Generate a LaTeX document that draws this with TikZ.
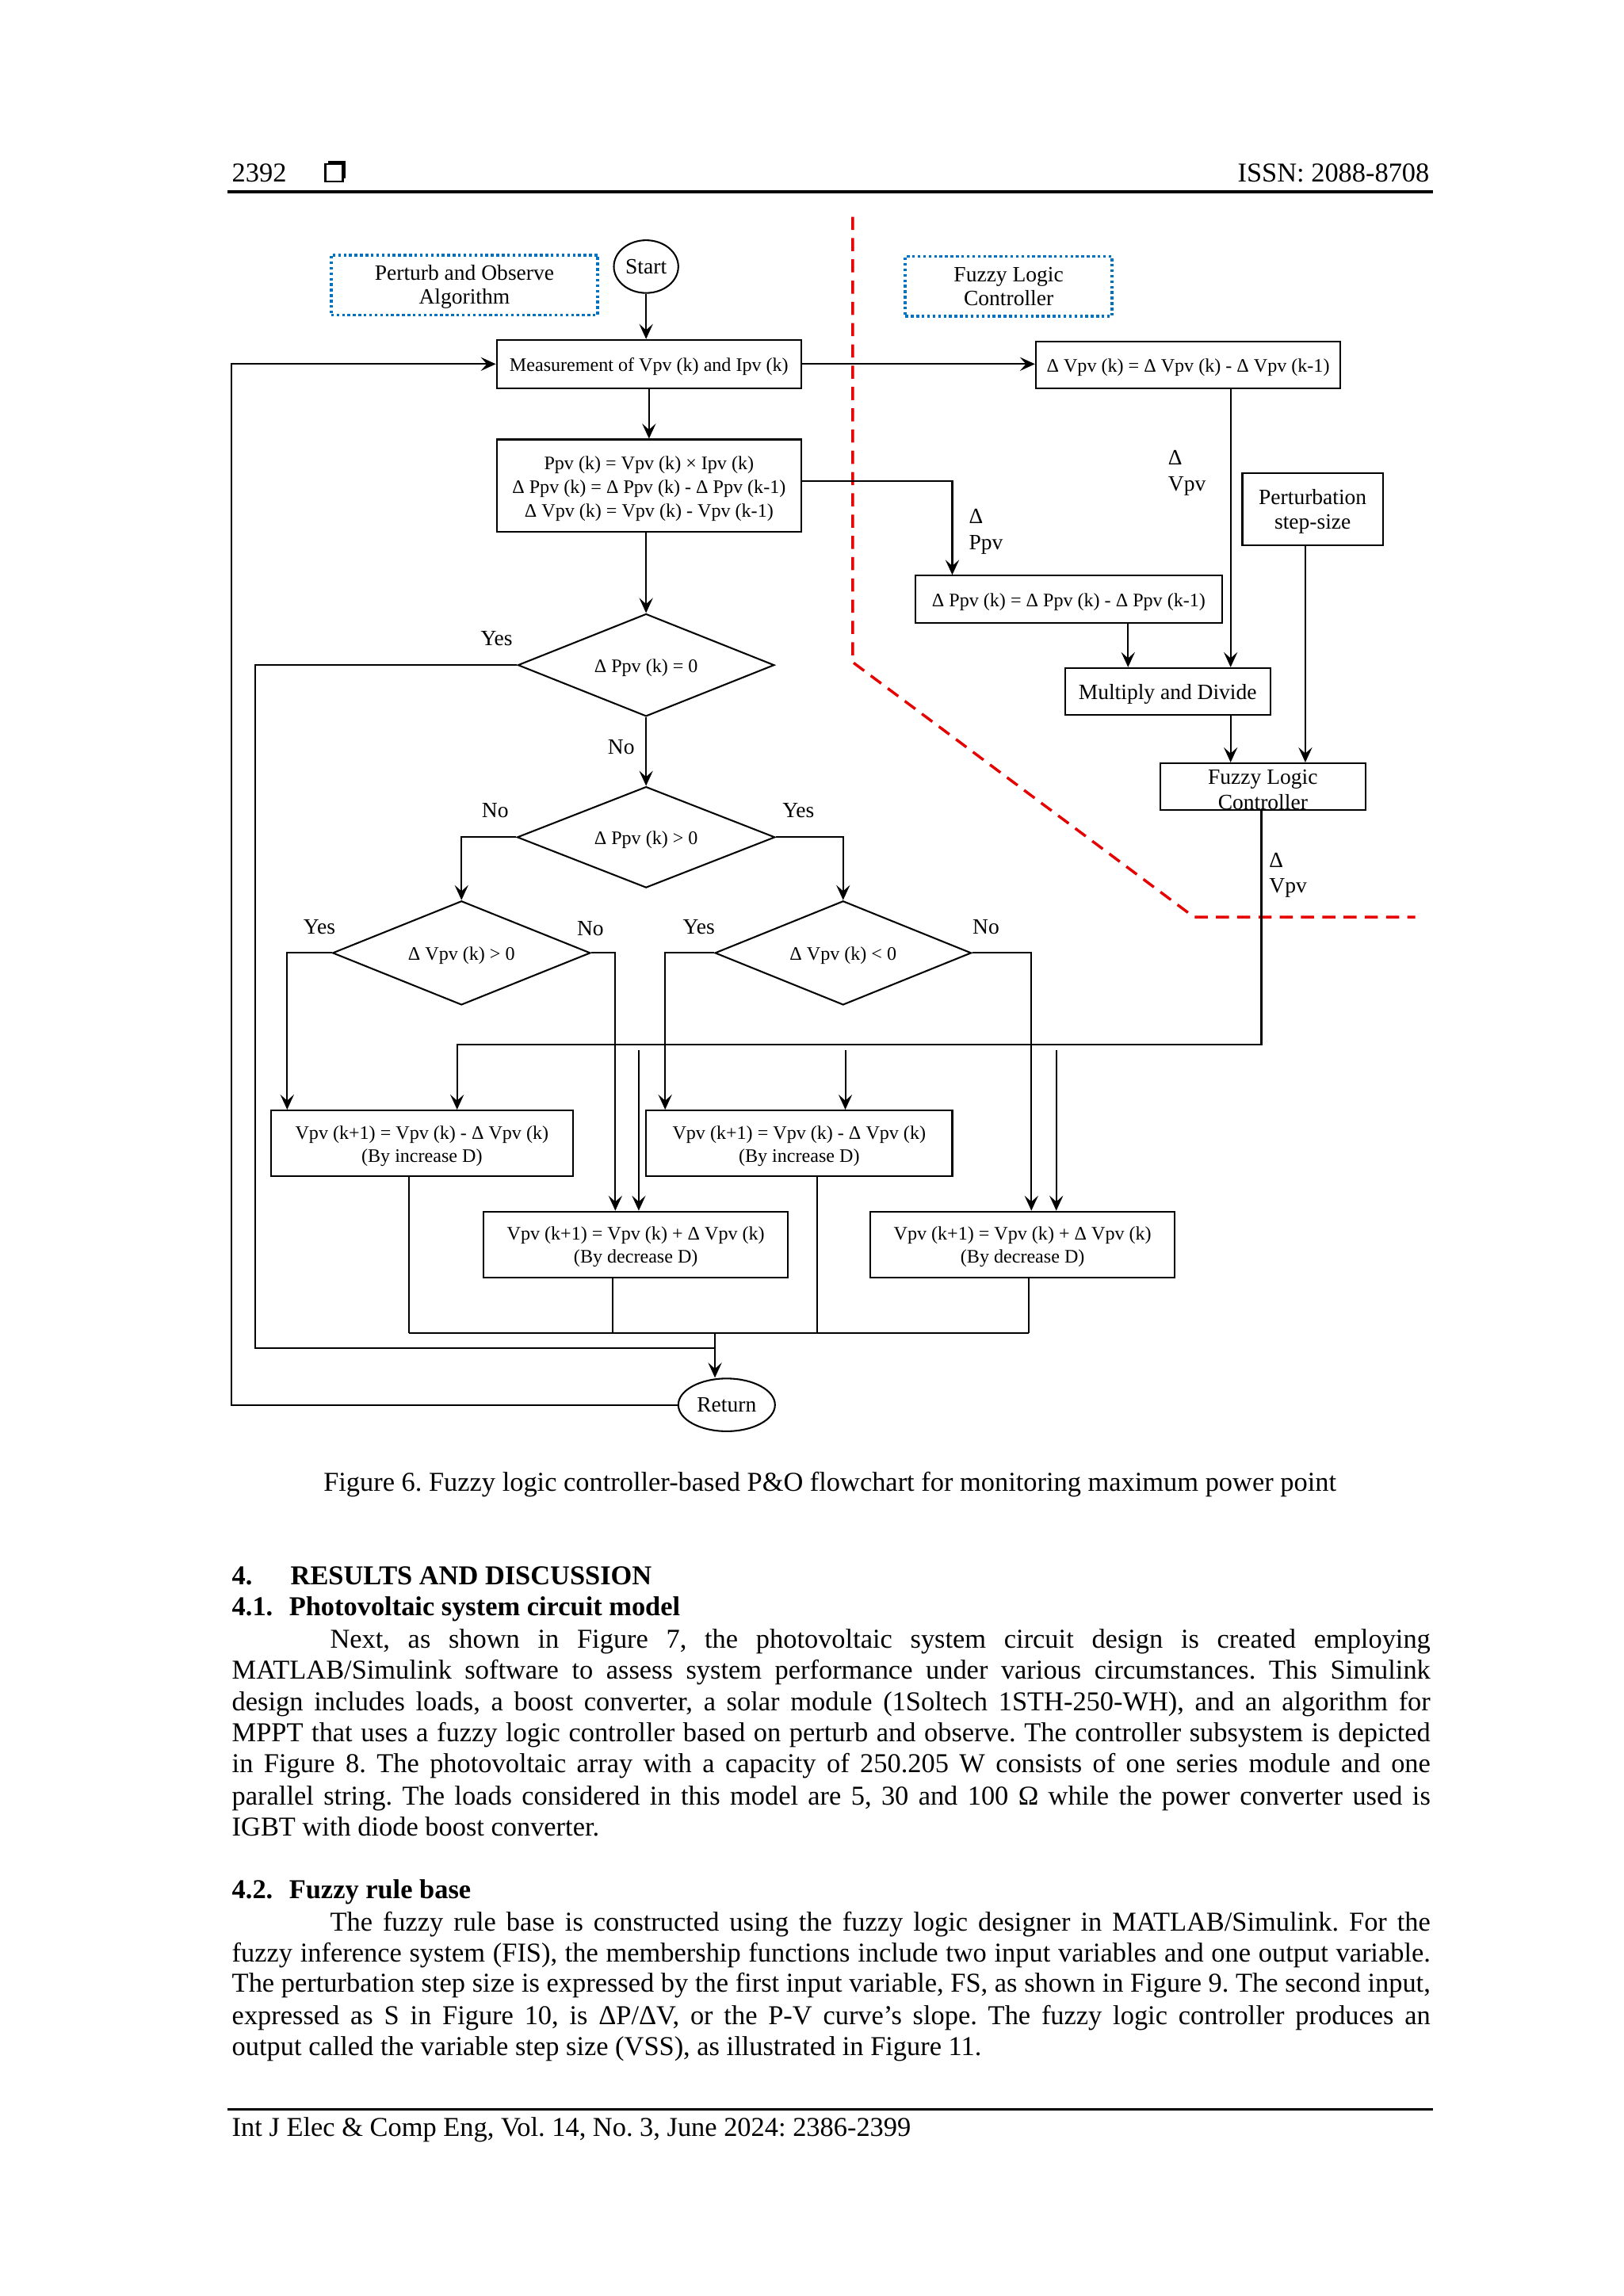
\documentclass[tikz,border=0pt]{standalone}
\usepackage{fontspec}
\setmainfont{Liberation Serif}
\usetikzlibrary{shapes.geometric,arrows.meta}
\frenchspacing
\newcommand*\dunit{0.53726pt}
\definecolor{dotblue}{RGB}{0,112,192}
\definecolor{redline}{RGB}{230,0,0}
\newcommand\bodyline[4]{\node[anchor=base west, inner sep=0pt, font=\fontsize{10}{11.5}\selectfont] (#1) at (#2) {\makebox[#3][s]{#4}};}
\newcommand\dn[1]{\raisebox{-1pt}[\height][\depth]{\begin{tabular}{@{}c@{}}#1\end{tabular}}}
\begin{document}
\begin{tikzpicture}[x=0.53726pt,y=-0.53726pt,
  box/.style={draw, line width=0.6pt, inner sep=0pt, align=center, font=\fontsize{7}{8.4}\selectfont},
  bigbox/.style={box, font=\fontsize{8}{9.2}\selectfont},
  lab/.style={inner sep=0pt, font=\fontsize{8}{9.4}\selectfont},
  dec/.style={draw, diamond, shape aspect=2.5, inner sep=0pt, line width=0.6pt, font=\fontsize{7}{8.4}\selectfont},
  term/.style={draw, ellipse, inner sep=0pt, line width=0.6pt, font=\fontsize{8}{9.6}\selectfont},
  dotbox/.style={draw=dotblue, line width=1.1pt, dash pattern=on 1pt off 1pt, inner sep=0pt, align=center, font=\fontsize{8}{8.7}\selectfont},
  arr/.style={line width=0.6pt, -{Stealth[length=5.5pt,width=5pt,inset=2.2pt]}},
  con/.style={line width=0.6pt},
  reddash/.style={draw=redline, line width=1pt, dash pattern=on 4.8pt off 3pt},
  txt/.style={inner sep=0pt, font=\fontsize{10}{11.5}\selectfont}
]
\fill[white] (0,0) rectangle (1108,1567.3);
\useasboundingbox (0,0) rectangle (1108,1567.3);

% ---------- header ----------
\node[txt, anchor=base west] (pgnum) at (158,124) {2392};
\fill (224,110) rectangle (236,122);
\filldraw[fill=white, draw=black, line width=0.7pt] (222,112) rectangle (234,124);
\node[txt, anchor=base east] (issn) at (976,124) {ISSN: 2088-8708};
\draw[line width=1pt] (155,131) -- (978,131);

% ---------- red separator ----------
\draw[reddash] (582,148) -- (582,452) -- (815,626) -- (966,626);

% ---------- nodes ----------
\node[dotbox, minimum width=182*\dunit, minimum height=41*\dunit] (pao) at (317,194.5) {\dn{Perturb and Observe\\Algorithm}};
\node[dotbox, minimum width=141*\dunit, minimum height=41*\dunit] (flclab) at (688.5,195.5) {\dn{Fuzzy Logic\\Controller}};
\node[term, minimum width=44*\dunit, minimum height=36*\dunit] (start) at (441,182) {Start};
\node[box, minimum width=208*\dunit, minimum height=33*\dunit] (meas) at (443,248.5) {\dn{Measurement of Vpv (k) and Ipv (k)}};
\node[box, minimum width=208*\dunit, minimum height=32*\dunit] (dvpv) at (811,249) {\dn{Δ Vpv (k) = Δ Vpv (k) - Δ Vpv (k-1)}};
\node[box, minimum width=208*\dunit, minimum height=63*\dunit, font=\fontsize{7}{8.7}\selectfont] (ppv) at (443,331.5) {\dn{Ppv (k) = Vpv (k) × Ipv (k)\\Δ Ppv (k) = Δ Ppv (k) - Δ Ppv (k-1)\\Δ Vpv (k) = Vpv (k) - Vpv (k-1)}};
\node[box, minimum width=209*\dunit, minimum height=32*\dunit] (dppv) at (729.5,409) {\dn{Δ Ppv (k) = Δ Ppv (k) - Δ Ppv (k-1)}};
\node[bigbox, minimum width=96*\dunit, minimum height=49*\dunit] (pert) at (896,347.5) {\dn{Perturbation\\step-size}};
\node[bigbox, minimum width=140*\dunit, minimum height=32*\dunit] (md) at (797,472) {\dn{Multiply and Divide}};
\node[box, minimum width=140*\dunit, minimum height=32*\dunit] (flc) at (862,537) {};
\node[lab, align=center, font=\fontsize{8}{9.2}\selectfont] (flctxt) at (862,539) {Fuzzy Logic\\Controller};

\node[dec, minimum width=175*\dunit, minimum height=70*\dunit] (d1) at (441,454) {\dn{Δ Ppv (k) = 0}};
\node[dec, minimum width=176*\dunit, minimum height=69*\dunit] (d2) at (441,571.5) {\dn{Δ Ppv (k) > 0}};
\node[dec, minimum width=176*\dunit, minimum height=71*\dunit] (d3) at (315,650.5) {\dn{Δ Vpv (k) > 0}};
\node[dec, minimum width=175*\dunit, minimum height=71*\dunit] (d4) at (575.5,650.5) {\dn{Δ Vpv (k) < 0}};

\node[box, minimum width=206*\dunit, minimum height=45*\dunit] (bA) at (288,780.5) {\dn{Vpv (k+1) = Vpv (k) - Δ Vpv (k)\\(By increase D)}};
\node[box, minimum width=209*\dunit, minimum height=45*\dunit] (bB) at (545.5,780.5) {\dn{Vpv (k+1) = Vpv (k) - Δ Vpv (k)\\(By increase D)}};
\node[box, minimum width=208*\dunit, minimum height=45*\dunit] (bC) at (434,849.5) {\dn{Vpv (k+1) = Vpv (k) + Δ Vpv (k)\\(By decrease D)}};
\node[box, minimum width=208*\dunit, minimum height=45*\dunit] (bD) at (698,849.5) {\dn{Vpv (k+1) = Vpv (k) + Δ Vpv (k)\\(By decrease D)}};

\node[term, minimum width=66*\dunit, minimum height=36*\dunit] (ret) at (496,959) {Return};

% ---------- labels ----------
\node[lab] (l1) at (339,436) {Yes};
\node[lab] (l2) at (424,510) {No};
\node[lab] (l3) at (338,553) {No};
\node[lab] (l4) at (545,553) {Yes};
\node[lab] (l5) at (218,633) {Yes};
\node[lab] (l6) at (403,634) {No};
\node[lab] (l7) at (477,633) {Yes};
\node[lab] (l8) at (673,633) {No};
\node[lab, anchor=west, align=left, font=\fontsize{8}{9.7}\selectfont] (ldv1) at (797,323) {Δ\\Vpv};
\node[lab, anchor=west, align=left, font=\fontsize{8}{9.7}\selectfont] (ldp) at (661,363) {Δ\\Ppv};
\node[lab, anchor=west, align=left, font=\fontsize{8}{9.2}\selectfont] (ldv2) at (866,597.5) {Δ\\Vpv};

% ---------- coordinates ----------
\coordinate (loop) at (158,600);
\coordinate (yesx) at (174,920);
\coordinate (bot) at (488,910);
\coordinate (busL) at (279,910);
\coordinate (busR) at (702,910);
\coordinate (jn) at (312,713);
\coordinate (tB) at (577,717);
\coordinate (tC) at (436,717);
\coordinate (tD) at (721,717);

% ---------- connectors ----------
\draw[arr] (start) -- (start |- meas.north);
\draw[arr] (meas.east) -- (meas.east -| dvpv.west);
\draw[arr] (meas.south) -- (ppv.north);
\draw[arr] ([yshift=3*\dunit]ppv.east) -| ([xshift=-79.5*\dunit]dppv.north);
\draw[arr] ([xshift=29*\dunit]dvpv.south) -- ([xshift=29*\dunit]dvpv.south |- md.north);
\draw[arr] ([xshift=40.5*\dunit]dppv.south) -- ([xshift=40.5*\dunit]dppv.south |- md.north);
\draw[arr] ([xshift=-5*\dunit]pert.south) -- ([xshift=-5*\dunit]pert.south |- flc.north);
\draw[arr] ([xshift=43*\dunit]md.south) -- ([xshift=43*\dunit]md.south |- flc.north);
\draw[arr] ([xshift=-1*\dunit]flc.south) -- ([xshift=-1*\dunit]flc.south |- jn) -- (jn) -- (jn |- bA.north);
\draw[arr] (tC) -- (tC |- bC.north);
\draw[arr] (tB) -- (tB |- bB.north);
\draw[arr] (tD) -- (tD |- bD.north);

\draw[arr] (d1.north |- ppv.south) -- (d1.north);
\draw[con] (d1.west) -| (yesx) -- (yesx -| bot);
\draw[arr] (d1.south) -- (d2.north);
\draw[arr] (d2.west) -| (d3.north);
\draw[arr] (d2.east) -| (d4.north);
\draw[arr] (d3.west) -| ([xshift=-92*\dunit]bA.north);
\draw[arr] (d3.east) -| ([xshift=-14*\dunit]bC.north);
\draw[arr] (d4.west) -| ([xshift=-91.5*\dunit]bB.north);
\draw[arr] (d4.east) -| ([xshift=6*\dunit]bD.north);

\draw[con] (busL) -- (busR);
\draw[con] ([xshift=-9*\dunit]bA.south) -- ([xshift=-9*\dunit]bA.south |- busL);
\draw[con] ([xshift=-16*\dunit]bC.south) -- ([xshift=-16*\dunit]bC.south |- busL);
\draw[con] ([xshift=12.5*\dunit]bB.south) -- ([xshift=12.5*\dunit]bB.south |- busL);
\draw[con] ([xshift=4*\dunit]bD.south) -- ([xshift=4*\dunit]bD.south |- busL);
\draw[arr] (bot) -- (bot |- ret.north);
\draw[arr] (ret.west) -- (ret.west -| loop) -- (loop |- meas.west) -- (meas.west);

% ---------- caption ----------
\node[txt, anchor=base] (cap) at (566.5,1018) {Figure 6. Fuzzy logic controller-based P\&O flowchart for monitoring maximum power point};

% ---------- section text ----------
\node[txt, anchor=base west, font=\fontsize{10}{11.5}\selectfont\bfseries] (h4n) at (158,1082) {4.};
\node[txt, anchor=base west, font=\fontsize{10}{11.5}\selectfont\bfseries] (h4) at (198,1082) {RESULTS AND DISCUSSION};
\node[txt, anchor=base west, font=\fontsize{10}{11.5}\selectfont\bfseries] (h41n) at (158,1103) {4.1.};
\node[txt, anchor=base west, font=\fontsize{10}{11.5}\selectfont\bfseries] (h41) at (197,1103) {Photovoltaic system circuit model};

\bodyline{pa1}{225,1125}{403.5pt}{Next, as shown in Figure 7, the photovoltaic system circuit design is created employing}
\bodyline{pa2}{158,1146}{439.5pt}{MATLAB/Simulink software to assess system performance under various circumstances. This Simulink}
\bodyline{pa3}{158,1168}{439.5pt}{design includes loads, a boost converter, a solar module (1Soltech 1STH-250-WH), and an algorithm for}
\bodyline{pa4}{158,1189}{439.5pt}{MPPT that uses a fuzzy logic controller based on perturb and observe. The controller subsystem is depicted}
\bodyline{pa5}{158,1210}{439.5pt}{in Figure 8. The photovoltaic array with a capacity of 250.205 W consists of one series module and one}
\bodyline{pa6}{158,1232}{439.5pt}{parallel string. The loads considered in this model are 5, 30 and 100 Ω while the power converter used is}
\node[txt, anchor=base west] (pa7) at (158,1253) {IGBT with diode boost converter.};

\node[txt, anchor=base west, font=\fontsize{10}{11.5}\selectfont\bfseries] (h42n) at (158,1296) {4.2.};
\node[txt, anchor=base west, font=\fontsize{10}{11.5}\selectfont\bfseries] (h42) at (197,1296) {Fuzzy rule base};

\bodyline{pb1}{225,1318}{403.5pt}{The fuzzy rule base is constructed using the fuzzy logic designer in MATLAB/Simulink. For the}
\bodyline{pb2}{158,1339}{439.5pt}{fuzzy inference system (FIS), the membership functions include two input variables and one output variable.}
\bodyline{pb3}{158,1360}{439.5pt}{The perturbation step size is expressed by the first input variable, FS, as shown in Figure 9. The second input,}
\bodyline{pb4}{158,1382}{439.5pt}{expressed as S in Figure 10, is ΔP/ΔV, or the P-V curve's slope. The fuzzy logic controller produces an}
\node[txt, anchor=base west] (pb5) at (158,1403) {output called the variable step size (VSS), as illustrated in Figure 11.};

% ---------- footer ----------
\draw[line width=1pt] (155,1440) -- (978,1440);
\node[txt, anchor=base west] (foot) at (158,1458) {Int J Elec \& Comp Eng, Vol. 14, No. 3, June 2024: 2386-2399};
\end{tikzpicture}
\end{document}
